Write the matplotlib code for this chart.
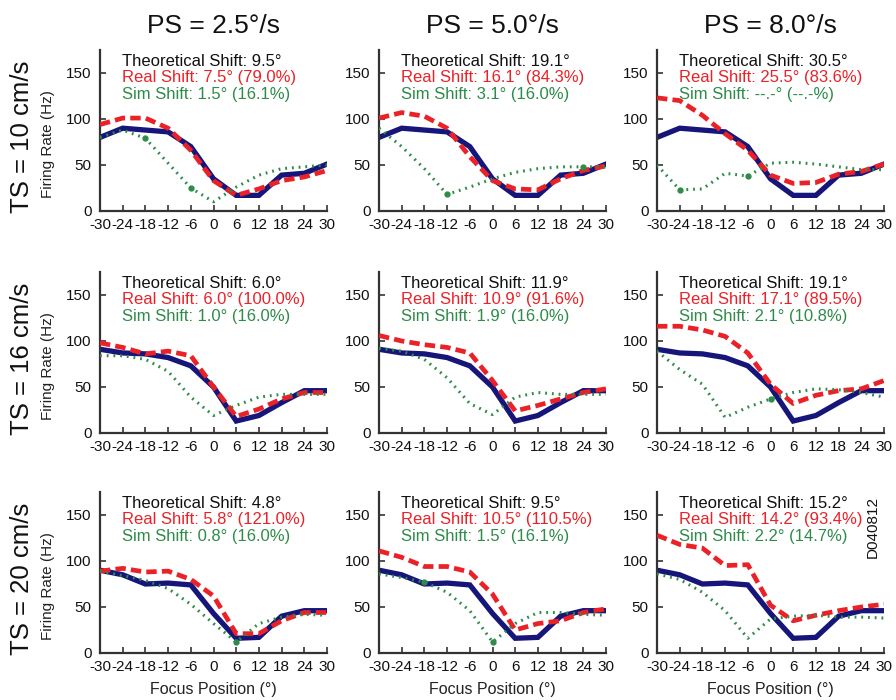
import matplotlib
matplotlib.use("Agg")
import matplotlib.pyplot as plt

plt.rcParams['font.family'] = ['Liberation Sans', 'DejaVu Sans']

focus_positions = [-30, -24, -18, -12, -6, 0, 6, 12, 18, 24, 30]
x_tick_labels = ['-30', '-24', '-18', '-12', '-6',
                 '0', '6', '12', '18', '24', '30']
y_ticks = [0, 50, 100, 150]

col_titles = ['PS = 2.5°/s', 'PS = 5.0°/s', 'PS = 8.0°/s']
row_titles = ['TS = 10 cm/s', 'TS = 16 cm/s', 'TS = 20 cm/s']

# Measured (static) firing rate, one per TS row
real_static_10 = [80, 90, 88, 86, 70, 35, 17, 17, 39, 41, 51]
real_static_16 = [91, 87, 86, 82, 73, 50, 13, 19, 33, 46, 46]
real_static_20 = [90, 85, 75, 76, 74, 43, 16, 17, 40, 46, 46]

# Real (moving) firing rate, per panel (row, col)
real_moving_10_25 = [94, 101, 101, 90, 66, 33, 17, 24, 33, 37, 44]
real_moving_10_50 = [101, 107, 103, 90, 59, 33, 24, 23, 35, 44, 49]
real_moving_10_80 = [123, 120, 104, 84, 66, 39, 30, 31, 40, 43, 51]
real_moving_16_25 = [98, 93, 86, 89, 84, 50, 18, 26, 37, 44, 44]
real_moving_16_50 = [106, 100, 96, 93, 87, 57, 24, 30, 37, 44, 48]
real_moving_16_80 = [116, 116, 112, 105, 87, 53, 32, 41, 46, 48, 57]
real_moving_20_25 = [89, 92, 88, 89, 80, 62, 21, 21, 35, 44, 44]
real_moving_20_50 = [111, 104, 94, 94, 88, 64, 25, 32, 35, 44, 48]
real_moving_20_80 = [128, 118, 114, 95, 96, 52, 35, 41, 46, 50, 53]

# Simulated firing rate, per panel
sim_10_25 = [80, 88, 79, 52, 25, 10, 26, 39, 46, 48, 50]
sim_10_50 = [90, 70, 46, 18, 26, 35, 42, 46, 48, 48, 48]
sim_10_80 = [50, 23, 24, 41, 38, 52, 53, 51, 48, 45, 45]
sim_16_25 = [84, 84, 80, 67, 39, 19, 30, 39, 42, 42, 42]
sim_16_50 = [92, 89, 80, 60, 32, 20, 39, 44, 42, 42, 42]
sim_16_80 = [89, 69, 53, 17, 28, 37, 44, 48, 47, 44, 39]
sim_20_25 = [89, 84, 79, 70, 53, 32, 12, 32, 39, 42, 41]
sim_20_50 = [86, 82, 77, 66, 46, 12, 32, 44, 44, 42, 41]
sim_20_80 = [86, 80, 66, 46, 16, 37, 40, 41, 39, 39, 38]

# Positions where the simulated curve carries a dot
sim_dots_10_25 = [-18, -6]
sim_dots_10_50 = [-12, 24]
sim_dots_10_80 = [-24, -6]
sim_dots_16_25 = []
sim_dots_16_50 = []
sim_dots_16_80 = [0]
sim_dots_20_25 = [6]
sim_dots_20_50 = [-18, 0]
sim_dots_20_80 = []

theoretical_shift = [['9.5°', '19.1°', '30.5°'],
                     ['6.0°', '11.9°', '19.1°'],
                     ['4.8°', '9.5°', '15.2°']]
real_shift = [['7.5° (79.0%)', '16.1° (84.3%)', '25.5° (83.6%)'],
              ['6.0° (100.0%)', '10.9° (91.6%)', '17.1° (89.5%)'],
              ['5.8° (121.0%)', '10.5° (110.5%)', '14.2° (93.4%)']]
sim_shift = [['1.5° (16.1%)', '3.1° (16.0%)', '--.-° (--.-%)'],
             ['1.0° (16.0%)', '1.9° (16.0%)', '2.1° (10.8%)'],
             ['0.8° (16.0%)', '1.5° (16.1%)', '2.2° (14.7%)']]

static_rows = [real_static_10, real_static_16, real_static_20]
moving = [[real_moving_10_25, real_moving_10_50, real_moving_10_80],
          [real_moving_16_25, real_moving_16_50, real_moving_16_80],
          [real_moving_20_25, real_moving_20_50, real_moving_20_80]]
sims = [[sim_10_25, sim_10_50, sim_10_80],
        [sim_16_25, sim_16_50, sim_16_80],
        [sim_20_25, sim_20_50, sim_20_80]]
sim_dots = [[sim_dots_10_25, sim_dots_10_50, sim_dots_10_80],
            [sim_dots_16_25, sim_dots_16_50, sim_dots_16_80],
            [sim_dots_20_25, sim_dots_20_50, sim_dots_20_80]]

BLUE = '#16167a'
RED = '#ea2228'
GREEN = '#2e8b4a'
SPINE = '#333333'

fig = plt.figure(figsize=(8.96, 7.0), dpi=100)

lefts = [100 / 896, 379 / 896, 657 / 896]
width = 227 / 896
bottoms = [1 - 211 / 700, 1 - 433 / 700, 1 - 653 / 700]
height = 161 / 700

for r in range(3):
    for c in range(3):
        ax = fig.add_axes([lefts[c], bottoms[r], width, height])
        ax.plot(focus_positions, static_rows[r], color=BLUE, lw=3.8,
                solid_joinstyle='miter', zorder=2)
        ax.plot(focus_positions, moving[r][c], color=RED, lw=3.4,
                linestyle=(0, (2.2, 1.1)), zorder=3)
        ax.plot(focus_positions, sims[r][c], color=GREEN, lw=2.2,
                linestyle=(0, (0.6, 1.6)), zorder=4)
        dots = sim_dots[r][c]
        if dots:
            yd = [sims[r][c][focus_positions.index(d)] for d in dots]
            ax.plot(dots, yd, 'o', color=GREEN, ms=3.5, zorder=5)

        ax.set_xlim(-30, 30)
        ax.set_ylim(0, 175)
        ax.set_xticks(focus_positions)
        ax.set_xticklabels(x_tick_labels)
        ax.set_yticks(y_ticks)
        ax.tick_params(direction='in', length=4, width=1.2, colors=SPINE,
                       labelsize=11, labelcolor='#111111')
        ax.tick_params(axis='x', pad=5)
        ax.tick_params(axis='y', pad=6)
        for s in ['top', 'right']:
            ax.spines[s].set_visible(False)
        for s in ['left', 'bottom']:
            ax.spines[s].set_color(SPINE)
            ax.spines[s].set_linewidth(1.6)

        tx = 0.095
        ax.text(tx, 0.93, 'Theoretical Shift: ' + theoretical_shift[r][c],
                transform=ax.transAxes, color='#111111', fontsize=12,
                va='center', ha='left')
        ax.text(tx, 0.827, 'Real Shift: ' + real_shift[r][c],
                transform=ax.transAxes, color=RED, fontsize=12,
                va='center', ha='left')
        ax.text(tx, 0.724, 'Sim Shift: ' + sim_shift[r][c],
                transform=ax.transAxes, color=GREEN, fontsize=12,
                va='center', ha='left')

        if r == 2:
            ax.set_xlabel('Focus Position (°)', fontsize=11.5, labelpad=6,
                          color='#222222')
        if r == 0:
            ax.set_title(col_titles[c], fontsize=19, pad=12, color='#111111')
        if c == 0:
            fig.text(22 / 896, bottoms[r] + height / 2 - 6 / 700, row_titles[r],
                     rotation=90, fontsize=18.5, ha='center', va='center',
                     color='#111111')
            fig.text(48 / 896, bottoms[r] + height / 2 - 14 / 700,
                     'Firing Rate (Hz)', rotation=90, fontsize=11,
                     ha='center', va='center', color='#222222')

fig.text(873 / 896, 1 - 527 / 700, 'D040812', rotation=90, fontsize=11,
         ha='center', va='center', color='#111111')

fig.savefig('out.png', dpi=100)
